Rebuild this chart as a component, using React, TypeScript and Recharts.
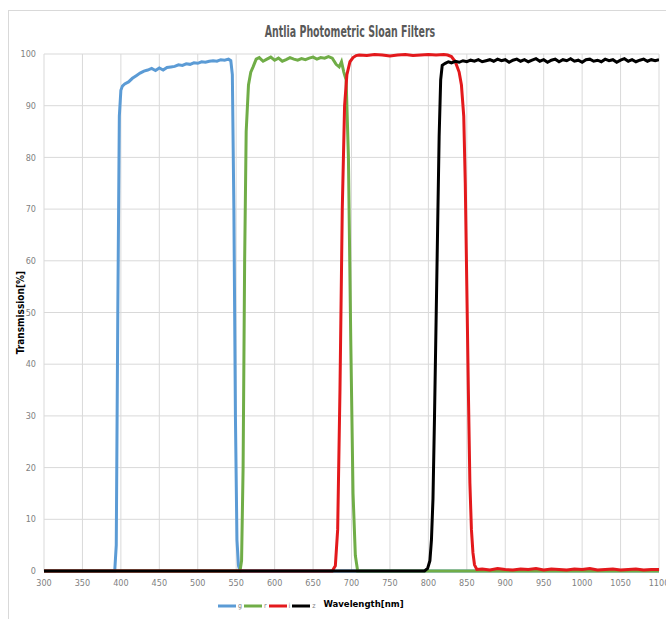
import React from "react";
import { LineChart, Line, XAxis, YAxis, CartesianGrid, Legend } from "recharts";

// wavelength [nm] / transmission [%]
const G_WL = [300, 385, 392, 394, 396, 398, 400, 402, 405, 410, 415, 420, 425, 430, 435, 440, 445, 450, 455, 460, 465, 470, 475, 480, 485, 490, 495, 500, 505, 510, 515, 520, 525, 530, 535, 540, 543, 545, 547, 549, 551, 553, 555, 1100];
const G_T = [0, 0, 0, 5, 50, 88, 93, 93.8, 94.2, 94.6, 95.3, 95.8, 96.3, 96.7, 96.9, 97.2, 96.8, 97.3, 96.9, 97.4, 97.5, 97.6, 97.9, 97.8, 98.1, 98.0, 98.3, 98.2, 98.5, 98.4, 98.6, 98.7, 98.6, 98.9, 98.8, 99.0, 98.7, 96, 70, 30, 6, 1, 0, 0];

const R_WL = [300, 555, 557, 559, 561, 563, 566, 569, 572, 576, 580, 585, 590, 595, 600, 605, 610, 615, 620, 625, 630, 635, 640, 645, 650, 655, 660, 665, 670, 675, 680, 684, 687, 690, 693, 696, 699, 702, 705, 708, 1100];
const R_T = [0, 0, 2, 20, 60, 85, 94, 96.5, 97.5, 99, 99.3, 98.6, 99.0, 99.4, 98.8, 99.2, 98.6, 98.9, 99.3, 99.0, 98.8, 99.1, 98.9, 99.2, 99.4, 99.0, 99.3, 99.2, 99.5, 99.2, 98.0, 97.5, 98.5, 96.5, 95, 80, 45, 15, 3, 0, 0];

const I_WL = [300, 675, 679, 682, 685, 688, 691, 694, 698, 702, 706, 710, 720, 730, 740, 750, 760, 770, 780, 790, 800, 810, 820, 825, 830, 835, 840, 843, 846, 848, 850, 852, 854, 856, 858, 860, 863, 870, 880, 890, 900, 910, 920, 930, 940, 950, 960, 970, 980, 990, 1000, 1010, 1020, 1030, 1040, 1050, 1060, 1070, 1080, 1090, 1100];
const I_T = [0, 0, 1, 8, 35, 70, 90, 96, 98.5, 99.3, 99.7, 99.8, 99.7, 99.9, 99.8, 99.6, 99.8, 99.9, 99.7, 99.8, 99.9, 99.8, 99.9, 99.8, 99.5, 98.5, 96.5, 94, 88, 75, 55, 35, 17, 8, 3.5, 1.2, 0.3, 0.4, 0.2, 0.5, 0.3, 0.2, 0.4, 0.3, 0.5, 0.2, 0.4, 0.3, 0.2, 0.4, 0.3, 0.5, 0.2, 0.3, 0.4, 0.2, 0.3, 0.4, 0.2, 0.3, 0.3];

const Z_WL = [300, 795, 799, 802, 804, 806, 808, 810, 812, 814, 816, 818, 822, 826, 830, 835, 840, 845, 850, 855, 860, 865, 870, 875, 880, 885, 890, 895, 900, 905, 910, 915, 920, 925, 930, 935, 940, 945, 950, 955, 960, 965, 970, 975, 980, 985, 990, 995, 1000, 1005, 1010, 1015, 1020, 1025, 1030, 1035, 1040, 1045, 1050, 1055, 1060, 1065, 1070, 1075, 1080, 1085, 1090, 1095, 1100];
const Z_T = [0, 0, 0.5, 2, 6, 14, 30, 48, 66, 84, 95, 97.8, 98.2, 98.5, 98.3, 98.6, 98.4, 98.7, 98.5, 98.8, 98.6, 98.9, 98.5, 98.7, 98.9, 98.6, 99.0, 98.7, 98.9, 98.4, 98.8, 99.0, 98.6, 98.9, 98.5, 98.8, 99.1, 98.6, 98.9, 98.4, 98.8, 99.0, 98.5, 98.9, 98.7, 99.1, 98.6, 98.8, 98.4, 98.9, 99.0, 98.6, 98.8, 98.5, 99.0, 98.7, 98.9, 98.4, 98.8, 99.1, 98.6, 98.9, 98.5, 98.8, 99.0, 98.6, 98.9, 98.7, 98.9];

const X_TICKS = [300, 350, 400, 450, 500, 550, 600, 650, 700, 750, 800, 850, 900, 950, 1000, 1050, 1100];
const Y_TICKS = [0, 10, 20, 30, 40, 50, 60, 70, 80, 90, 100];

const toPoints = (wl: number[], t: number[]) => wl.map((w, i) => ({ wl: w, t: t[i] }));

const FONT = '"Liberation Sans Narrow", "DejaVu Sans Condensed", Arial, sans-serif';

const series = [
  { name: "g", color: "#5b9bd5", data: toPoints(G_WL, G_T) },
  { name: "r", color: "#70ad47", data: toPoints(R_WL, R_T) },
  { name: "i", color: "#e3191c", data: toPoints(I_WL, I_T) },
  { name: "z", color: "#000000", data: toPoints(Z_WL, Z_T) },
];

const LegendRow = () => (
  <div style={{ display: "flex", alignItems: "center", fontFamily: FONT, fontSize: 7, color: "#7f7f7f" }}>
    {series.map((s) => (
      <span key={s.name} style={{ display: "flex", alignItems: "center" }}>
        <svg width={18} height={6}>
          <line x1={0} y1={3} x2={18} y2={3} stroke={s.color} strokeWidth={3} />
        </svg>
        <span style={{ margin: "0 2px 0 2px" }}>{s.name}</span>
      </span>
    ))}
  </div>
);

export default function App() {
  return (
    <div style={{ position: "absolute", left: 0, top: 0, width: 666, height: 619, overflow: "hidden", background: "#fff", fontFamily: FONT }}>
      <div style={{ position: "absolute", left: 8, top: 10, width: 700, height: 700, border: "1px solid #d9d9d9" }} />
      <div style={{ position: "absolute", left: 0, top: 23, width: 700, textAlign: "center", fontSize: 15, fontWeight: "bold", color: "#595959", transform: "scaleX(0.7)", transformOrigin: "350px 0" }}>
        Antlia Photometric Sloan Filters
      </div>
      <LineChart width={666} height={619} margin={{ top: 54, right: 7, bottom: 8, left: 0 }} style={{ position: "absolute", left: 0, top: 0 }}>
        <CartesianGrid stroke="#d9d9d9" strokeWidth={1} />
        <XAxis
          type="number"
          dataKey="wl"
          domain={[300, 1100]}
          ticks={X_TICKS}
          interval={0}
          axisLine={false}
          tickLine={false}
          tickSize={0}
          tickMargin={9}
          height={40}
          tick={{ fontSize: 9, fill: "#7f7f7f", fontFamily: FONT }}
          allowDataOverflow
          label={{ value: "Wavelength[nm]", position: "insideBottom", offset: 4, dx: 12, style: { fontSize: 9.5, fontWeight: "bold", fill: "#000", fontFamily: FONT } }}
        />
        <YAxis
          type="number"
          domain={[0, 100]}
          ticks={Y_TICKS}
          interval={0}
          width={44}
          axisLine={false}
          tickLine={false}
          tickSize={0}
          tickMargin={8}
          tick={{ fontSize: 9, fill: "#7f7f7f", fontFamily: FONT }}
          label={{ value: "Transmission[%]", angle: -90, position: "center", dx: -2, style: { fontSize: 10, fontWeight: "bold", fill: "#000", fontFamily: FONT } }}
        />
        <Legend
          layout="horizontal"
          verticalAlign="middle"
          align="center"
          content={() => <LegendRow />}
          wrapperStyle={{ top: 602, left: 218, width: 100, height: 8 }}
        />
        {series.map((s) => (
          <Line
            key={s.name}
            name={s.name}
            data={s.data}
            dataKey="t"
            type="linear"
            stroke={s.color}
            strokeWidth={3}
            dot={false}
            legendType="plainline"
            isAnimationActive={false}
          />
        ))}
      </LineChart>
    </div>
  );
}
